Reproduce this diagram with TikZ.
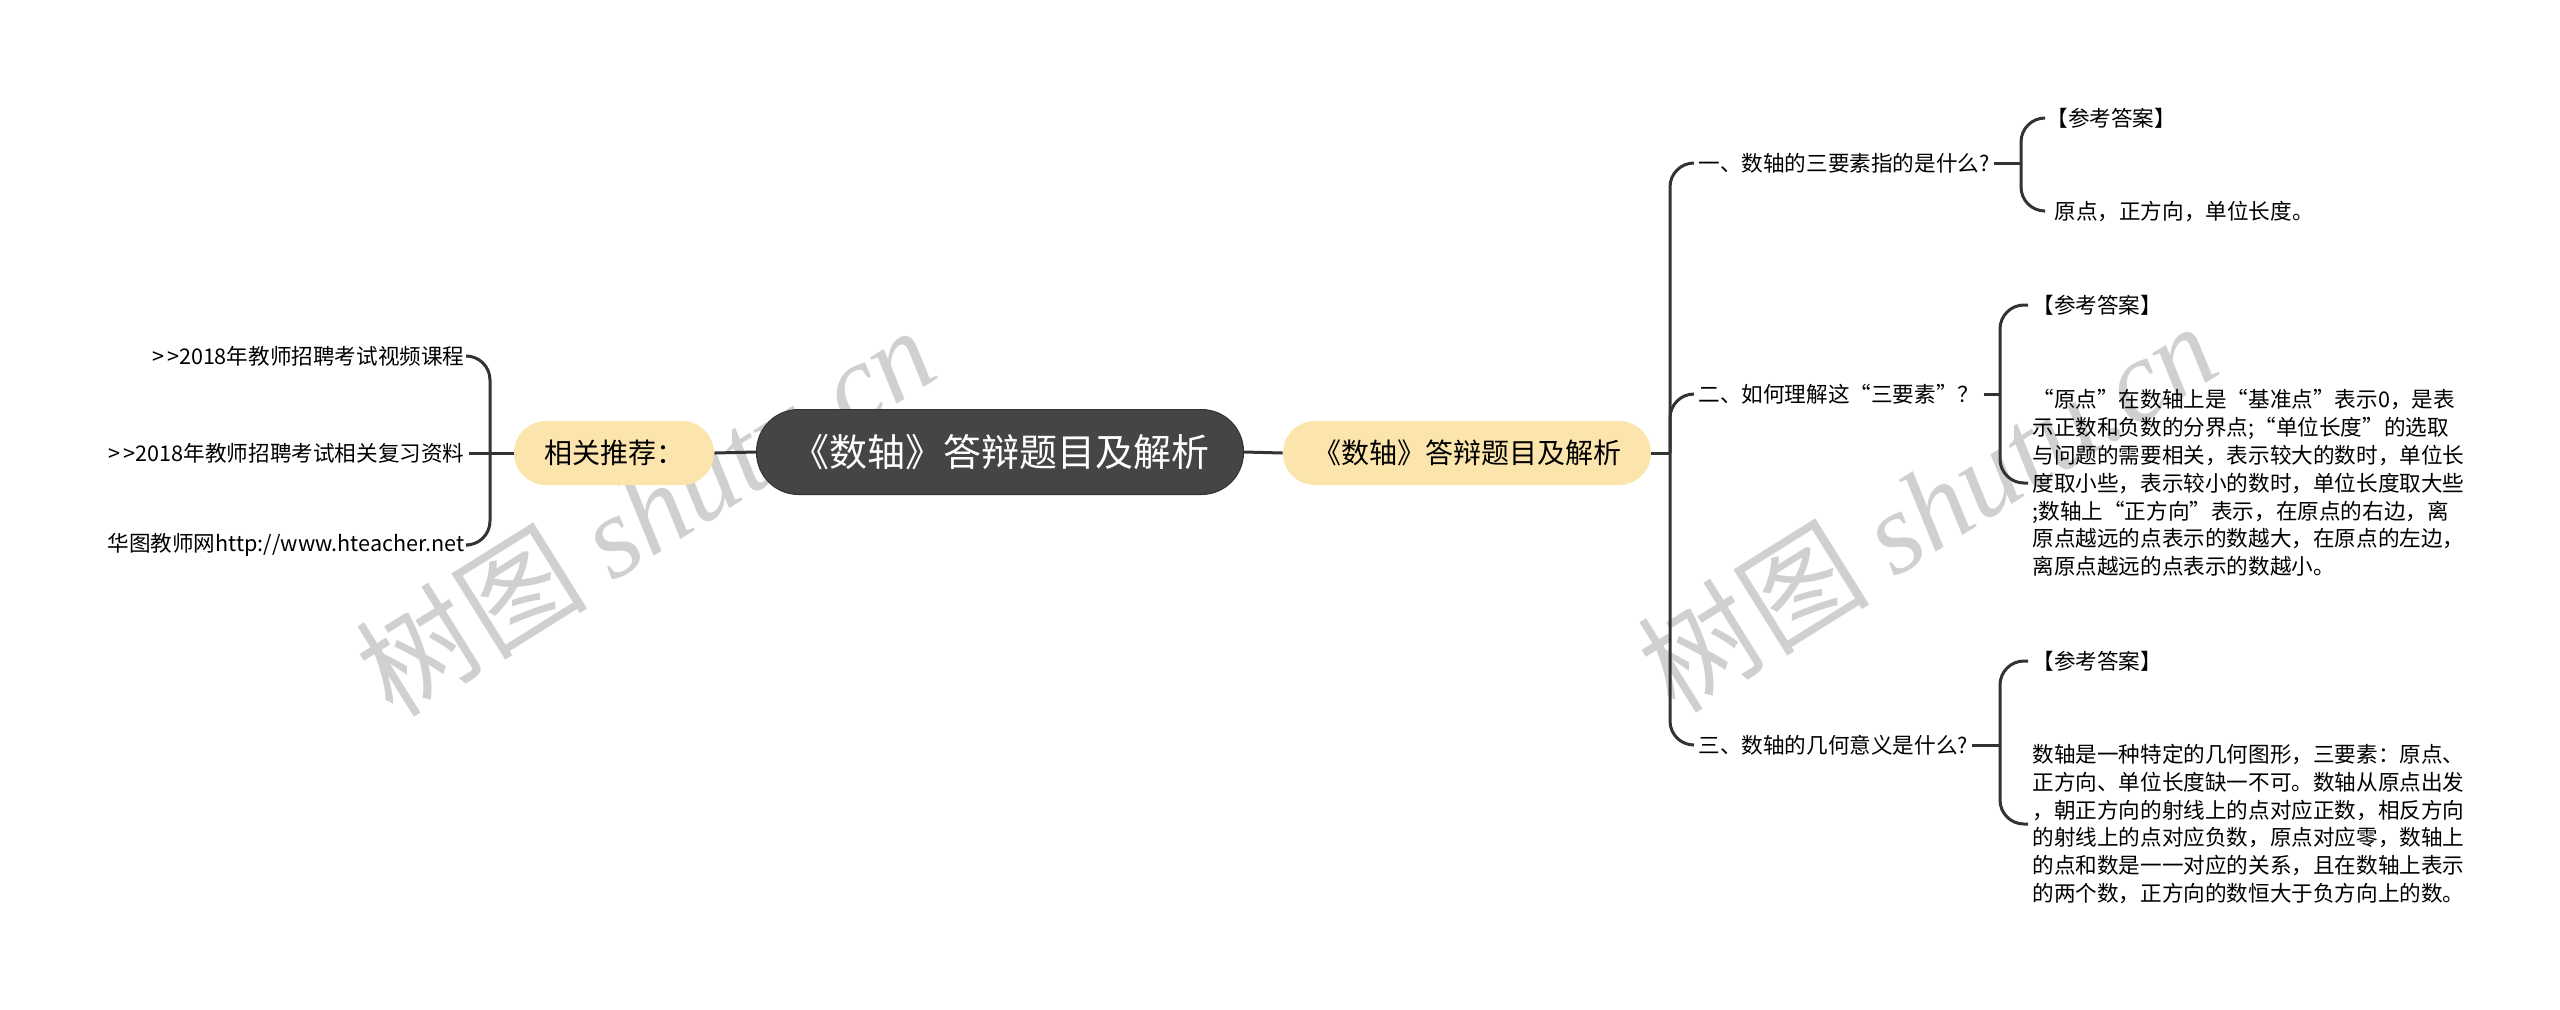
\documentclass[tikz,border=0pt]{standalone}
\usepackage{fontspec}
\setmainfont{Noto Sans CJK SC}
\newfontfamily\wmserif{Liberation Serif}
\usetikzlibrary{calc}
\definecolor{dark}{HTML}{454545}
\definecolor{pale}{HTML}{FCE5AC}
\definecolor{edge}{HTML}{333333}
\definecolor{wm}{HTML}{D0D0D0}
\begin{document}
\begin{tikzpicture}[x=0.5pt,y=-0.5pt,
  link/.style={draw=edge,line width=1.5pt},
  brace/.style={draw=edge,line width=1.5pt,rounded corners=12pt},
  leaf/.style={font=\fontsize{10.8}{13.9}\selectfont,inner sep=2pt,text=black},
  pill/.style={rounded corners=16pt,fill=pale,minimum height=32pt,font=\fontsize{14}{16}\selectfont,inner sep=0pt},
  wmark/.style={text=wm,rotate=32,font=\fontsize{58}{58}\selectfont}
]
\path[use as bounding box] (0,0) rectangle (2560,1009);
% watermarks
\node[wmark] (w1) at (645,510) {树图 {\wmserif\itshape shutu.cn}};
\node[wmark] (w2) at (1927,506) {树图 {\wmserif\itshape shutu.cn}};
% main nodes
\node[fill=dark,draw=black!80,line width=0.5pt,text=white,rounded corners=21pt,minimum width=243.5pt,minimum height=42.5pt,inner sep=0pt,font=\fontsize{19}{21}\selectfont] (root) at (1000,452) {《数轴》答辩题目及解析};
\node[pill,minimum width=184pt] (rp) at (1467,453) {《数轴》答辩题目及解析};
\node[pill,minimum width=100pt] (lp) at (614,453) {相关推荐：};
\draw[link] (root.west) -- (lp.east);
\draw[link] (root.east) -- (rp.west);
% left leaves
\node[leaf,anchor=east] (l1) at (469,356) {>\kern1.5pt>2018年教师招聘考试视频课程};
\node[leaf,anchor=east] (l2) at (469,453) {>\kern1.5pt>2018年教师招聘考试相关复习资料};
\node[leaf,anchor=east] (l3) at (469,545) {华图教师网http://www.hteacher.net};
\coordinate (jl) at (490,453);
\draw[link] (lp.west) -- (jl);
\draw[brace] (jl) |- (l1.east);
\draw[link] (jl) -- (l2.east);
\draw[brace] (jl) |- (l3.east);
% right branches
\node[leaf,anchor=west] (b1) at (1694,163) {一、数轴的三要素指的是什么?};
\node[leaf,anchor=west] (b2) at (1694,394) {二、如何理解这“三要素”？};
\node[leaf,anchor=west] (b3) at (1694,745) {三、数轴的几何意义是什么?};
\coordinate (jr) at (1670,453);
\draw[link] (rp.east) -- (jr);
\draw[brace] (jr) |- (b1.west);
\draw[brace] (jr) |- (b2.west);
\draw[brace] (jr) |- (b3.west);
% branch 1
\node[leaf,anchor=west] (c11) at (2042,118) {【参考答案】};
\node[leaf,anchor=west] (c12) at (2050,211) {原点，正方向，单位长度。};
\coordinate (s1) at (2021,163);
\draw[link] (b1.east) -- (s1);
\draw[brace] (s1) |- (c11.west);
\draw[brace] (s1) |- ($(c12.west)+(-6,0)$);
% branch 2
\node[leaf,anchor=west] (c21) at (2028,305) {【参考答案】};
\node[leaf,anchor=west,align=left] (c22) at (2028,483) {“原点”在数轴上是“基准点”表示0，是表\\示正数和负数的分界点;“单位长度”的选取\\与问题的需要相关，表示较大的数时，单位长\\度取小些，表示较小的数时，单位长度取大些\\;数轴上“正方向”表示，在原点的右边，离\\原点越远的点表示的数越大，在原点的左边，\\离原点越远的点表示的数越小。};
\coordinate (s2) at (2000,394);
\draw[link] (b2.east) -- (s2);
\draw[brace] (s2) |- (c21.west);
\draw[brace] (s2) |- (c22.west);
% branch 3
\node[leaf,anchor=west] (c31) at (2028,661) {【参考答案】};
\node[leaf,anchor=west,align=left] (c32) at (2028,824) {数轴是一种特定的几何图形，三要素：原点、\\正方向、单位长度缺一不可。数轴从原点出发\\，朝正方向的射线上的点对应正数，相反方向\\的射线上的点对应负数，原点对应零，数轴上\\的点和数是一一对应的关系，且在数轴上表示\\的两个数，正方向的数恒大于负方向上的数。};
\coordinate (s3) at (2000,745);
\draw[link] (b3.east) -- (s3);
\draw[brace] (s3) |- (c31.west);
\draw[brace] (s3) |- (c32.west);
\end{tikzpicture}
\end{document}
